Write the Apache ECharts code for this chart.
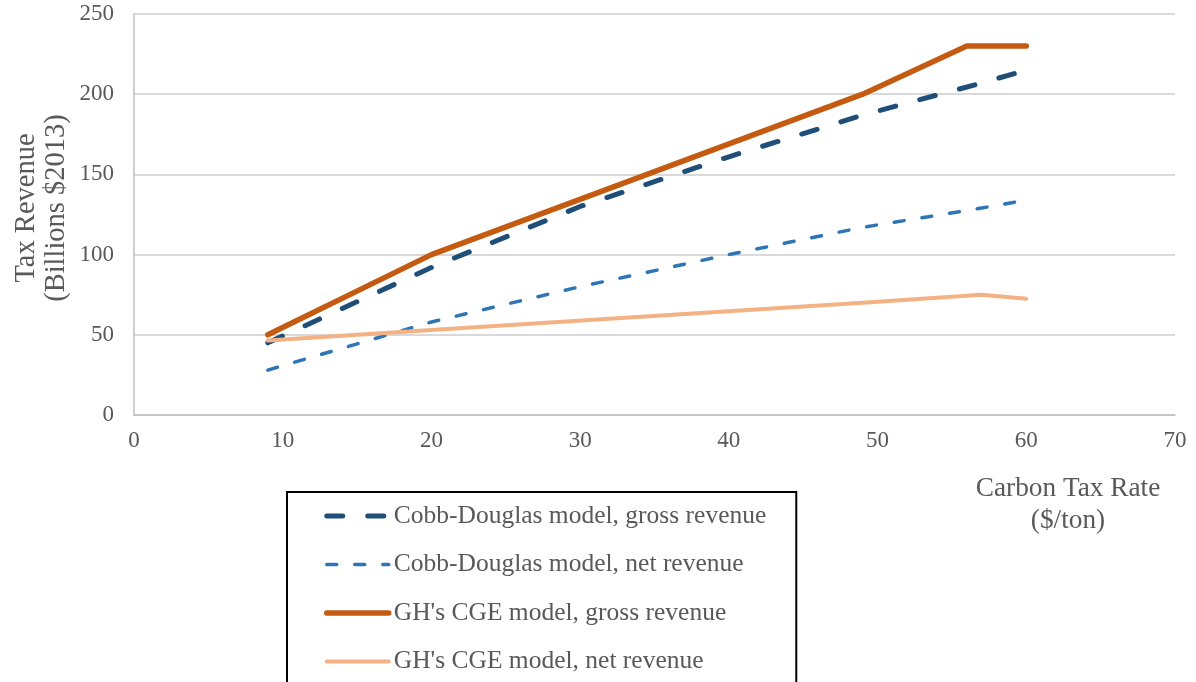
<!DOCTYPE html>
<html>
<head>
<meta charset="utf-8">
<title>Carbon tax revenue</title>
<script src="https://cdn.jsdelivr.net/npm/echarts@6/dist/echarts.min.js"></script>
<style>
  html, body { margin: 0; padding: 0; background: #fff; }
  #chart { width: 1196px; height: 682px; }
</style>
</head>
<body>
<div id="chart"></div>
<script>
// tax rates ($/ton) and revenues (billions $2013)
var cdRates = [9, 20, 30, 40, 49, 57, 60];
var cdGross = [45, 92, 130, 161, 187, 207, 215];
var cdNet = [28, 58, 80, 100, 117, 129, 134];

var ghGrossRates = [9, 20, 49, 56, 60];
var ghGross = [50, 100, 200, 230, 230];
var ghNetRates = [9, 20, 49, 57, 60];
var ghNet = [46.5, 53, 70, 75, 72.5];

var seriesNames = [
  'Cobb-Douglas model, gross revenue',
  'Cobb-Douglas model, net revenue',
  "GH's CGE model, gross revenue",
  "GH's CGE model, net revenue"
];

var xTicks = [0, 10, 20, 30, 40, 50, 60, 70];
var yTicks = [0, 50, 100, 150, 200, 250];

var textColor = '#595959';
var font = "'Liberation Serif', 'Times New Roman', serif";

function pairs(xs, ys) {
  var out = [];
  for (var i = 0; i < xs.length; i++) {
    out.push([xs[i], ys[i]]);
  }
  return out;
}

function lineSeries(name, data, color, width, dash) {
  return {
    name: name,
    type: 'line',
    data: data,
    symbol: 'none',
    animation: false,
    lineStyle: {
      color: color,
      width: width,
      type: dash || 'solid',
      cap: 'round',
      join: 'round'
    },
    itemStyle: { color: color }
  };
}

var myChart = echarts.init(document.getElementById('chart'));
var option = {
  backgroundColor: '#fff',
  animation: false,
  textStyle: { fontFamily: font, color: textColor },
  grid: { left: 134, right: 21, top: 14, bottom: 267 },
  xAxis: {
    type: 'value',
    min: xTicks[0],
    max: xTicks[xTicks.length - 1],
    interval: 10,
    axisLine: { lineStyle: { color: '#bfbfbf', width: 1.5 } },
    axisTick: { show: false },
    splitLine: { show: false },
    axisLabel: { color: textColor, fontSize: 23, fontFamily: font, margin: 14 }
  },
  yAxis: {
    type: 'value',
    min: yTicks[0],
    max: yTicks[yTicks.length - 1],
    interval: 50,
    axisLine: { show: true, lineStyle: { color: '#bfbfbf', width: 1.5 } },
    axisTick: { show: false },
    splitLine: { lineStyle: { color: '#d9d9d9', width: 2 } },
    axisLabel: { color: textColor, fontSize: 23, fontFamily: font, margin: 20 }
  },
  legend: {
    orient: 'vertical',
    left: 287,
    top: 492,
    height: 400,
    data: seriesNames,
    itemWidth: 62,
    itemHeight: 14,
    itemGap: 22.5,
    padding: [11, 30, 40, 37],
    borderColor: '#000',
    borderWidth: 2,
    itemStyle: { opacity: 0 },
    textStyle: { color: textColor, fontSize: 25.5, fontFamily: font },
    lineStyle: { width: 'inherit', type: 'inherit', cap: 'inherit', opacity: 1 }
  },
  graphic: [
    {
      type: 'text',
      x: 42,
      y: 208,
      rotation: Math.PI / 2,
      style: {
        text: 'Tax Revenue\n(Billions $2013)',
        font: '28.5px ' + font,
        fill: textColor,
        align: 'center',
        verticalAlign: 'middle',
        lineHeight: 30
      }
    },
    {
      type: 'text',
      x: 1068,
      y: 505,
      style: {
        text: 'Carbon Tax Rate\n($/ton)',
        font: '27.3px ' + font,
        fill: textColor,
        align: 'center',
        verticalAlign: 'middle',
        lineHeight: 32
      }
    }
  ],
  series: [
    lineSeries(seriesNames[0], pairs(cdRates, cdGross), '#1f4e79', 5, [16, 25]),
    lineSeries(seriesNames[1], pairs(cdRates, cdNet), '#2e75b6', 3.5, [10, 18]),
    lineSeries(seriesNames[2], pairs(ghGrossRates, ghGross), '#c55a11', 5.5),
    lineSeries(seriesNames[3], pairs(ghNetRates, ghNet), '#f4b183', 4)
  ]
};
myChart.setOption(option);
</script>
</body>
</html>
